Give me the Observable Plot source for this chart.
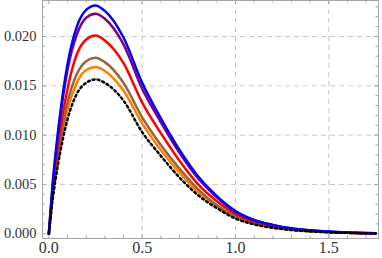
<!DOCTYPE html>
<html>
<head>
<meta charset="utf-8">
<script src="https://cdn.jsdelivr.net/npm/d3@7"></script>
<script src="https://cdn.jsdelivr.net/npm/@observablehq/plot@0.6"></script>
<style>
  html, body { margin: 0; padding: 0; background: #fff; }
  #chart svg { display: block; }
  #chart svg text { font-family: "Liberation Serif", "DejaVu Serif", serif !important; }
</style>
</head>
<body>
<div id="chart"></div>
<script>
const xs     = [0, 0.02, 0.05, 0.1, 0.15, 0.2, 0.25, 0.3, 0.4, 0.5, 0.6, 0.7, 0.8, 0.9, 1.0, 1.1, 1.2, 1.3, 1.4, 1.5, 1.6, 1.75];
const blue   = [0, 0.0050, 0.0105, 0.0172, 0.0210, 0.0227, 0.02315, 0.0226, 0.0199, 0.0153, 0.0117, 0.0085, 0.0058, 0.0038, 0.0023, 0.0014, 0.0009, 0.00055, 0.00035, 0.00022, 0.00013, 0.00005];
const purple = [0, 0.0048, 0.0101, 0.0166, 0.0202, 0.0219, 0.0223, 0.0218, 0.0192, 0.0147, 0.0113, 0.0082, 0.0056, 0.0037, 0.0022, 0.00135, 0.00087, 0.00053, 0.00034, 0.00021, 0.00013, 0.00005];
const red    = [0, 0.0043, 0.0091, 0.0147, 0.0182, 0.0197, 0.0201, 0.0196, 0.0173, 0.0133, 0.0102, 0.0074, 0.0050, 0.0033, 0.0020, 0.0012, 0.00078, 0.00048, 0.0003, 0.00019, 0.00011, 0.00004];
const brown  = [0, 0.0039, 0.0081, 0.0133, 0.0162, 0.0175, 0.01785, 0.0174, 0.0153, 0.0118, 0.0090, 0.0066, 0.0045, 0.0029, 0.00178, 0.00108, 0.0007, 0.00042, 0.00027, 0.00017, 0.0001, 0.00004];
const orange = [0, 0.0037, 0.0077, 0.0126, 0.0153, 0.0166, 0.0169, 0.0165, 0.0145, 0.0112, 0.0085, 0.0062, 0.0042, 0.0028, 0.00168, 0.00102, 0.00066, 0.0004, 0.00026, 0.00016, 0.0001, 0.00004];
const black  = [0, 0.0034, 0.0071, 0.0116, 0.0142, 0.0153, 0.01565, 0.0153, 0.0135, 0.0103, 0.0079, 0.0057, 0.0039, 0.0026, 0.00155, 0.00095, 0.0006, 0.00037, 0.00024, 0.00015, 0.00009, 0.00003];

const xMajor = [0, 0.5, 1.0, 1.5];
const xMinor = [0.1, 0.2, 0.3, 0.4, 0.6, 0.7, 0.8, 0.9, 1.1, 1.2, 1.3, 1.4, 1.6, 1.7];
const yMajor = [0, 0.005, 0.010, 0.015, 0.020];
const yMinor = [0.001, 0.002, 0.003, 0.004, 0.006, 0.007, 0.008, 0.009, 0.011, 0.012, 0.013, 0.014, 0.016, 0.017, 0.018, 0.019, 0.021, 0.022, 0.023];
const xGrid = [0.5, 1.0, 1.5];
const yGrid = [0.005, 0.010, 0.015, 0.020];

const series = [
  {name: "orange", values: orange, color: "#ff8000", dash: null},
  {name: "brown",  values: brown,  color: "#996633", dash: null},
  {name: "red",    values: red,    color: "#ff0000", dash: null},
  {name: "purple", values: purple, color: "#800080", dash: null},
  {name: "blue",   values: blue,   color: "#0000ff", dash: null},
  {name: "black",  values: black,  color: "#000000", dash: "2,3"}
];

const W = 382, H = 258;
const mL = 42, mR = 4, mT = 0, mB = 20;
const innerH = H - mT - mB;
const innerW = W - mL - mR;
const frameColor = "#a6a6a6";
const serif = "'Liberation Serif', 'DejaVu Serif', serif";

const lineMarks = series.map(s =>
  Plot.line(xs.map((x, i) => ({x, y: s.values[i]})), {
    x: "x", y: "y", stroke: s.color, strokeWidth: 2.5,
    strokeDasharray: s.dash, curve: "monotone-x", clip: true
  })
);

const chart = Plot.plot({
  width: W, height: H,
  marginLeft: mL, marginRight: mR, marginTop: mT, marginBottom: mB,
  style: {fontFamily: serif, background: "#fff"},
  x: {domain: [-0.034, 1.766]},
  y: {domain: [-0.00048, 0.02365]},
  marks: [
    Plot.gridX(xGrid, {stroke: "#c8c8c8", strokeOpacity: 1, strokeDasharray: "5,4"}),
    Plot.gridY(yGrid, {stroke: "#c8c8c8", strokeOpacity: 1, strokeDasharray: "5,4"}),
    Plot.tickX(xMajor, {x: d => d, stroke: frameColor, insetTop: innerH - 4}),
    Plot.tickX(xMinor, {x: d => d, stroke: frameColor, insetTop: innerH - 2.5}),
    Plot.tickX(xMajor, {x: d => d, stroke: frameColor, insetBottom: innerH - 4}),
    Plot.tickX(xMinor, {x: d => d, stroke: frameColor, insetBottom: innerH - 2.5}),
    Plot.tickY(yMajor, {y: d => d, stroke: frameColor, insetRight: innerW - 4}),
    Plot.tickY(yMinor, {y: d => d, stroke: frameColor, insetRight: innerW - 2.5}),
    Plot.tickY(yMajor, {y: d => d, stroke: frameColor, insetLeft: innerW - 4}),
    Plot.tickY(yMinor, {y: d => d, stroke: frameColor, insetLeft: innerW - 2.5}),
    Plot.frame({stroke: frameColor}),
    Plot.axisX(xMajor, {tickSize: 0, tickPadding: 3, tickFormat: d3.format(".1f"), fontSize: 16, fontFamily: serif, fill: "#333", label: null}),
    Plot.axisY(yMajor, {tickSize: 0, tickPadding: 6, tickFormat: d3.format(".3f"), fontSize: 14.5, fontFamily: serif, fill: "#333", label: null}),
    ...lineMarks
  ]
});
document.getElementById("chart").appendChild(chart);
</script>
</body>
</html>
